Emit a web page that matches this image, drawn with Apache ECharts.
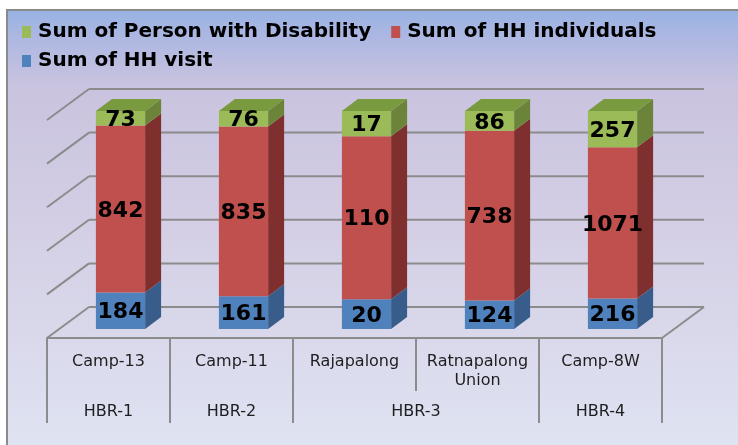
<!DOCTYPE html>
<html>
<head>
<meta charset="utf-8">
<script src="https://cdn.jsdelivr.net/npm/echarts@6/dist/echarts.min.js"></script>
<style>
  html, body { margin: 0; padding: 0; background: #fff; }
  #chart { width: 738px; height: 445px; }
</style>
</head>
<body>
<div id="chart"></div>
<script>
const camps = ['Camp-13', 'Camp-11', 'Rajapalong', 'Ratnapalong\nUnion', 'Camp-8W']
const regions = ['HBR-1', 'HBR-2', 'HBR-3', 'HBR-3', 'HBR-4']
const hhVisit = [184, 161, 20, 124, 216]
const hhIndividuals = [842, 835, 110, 738, 1071]
const disability = [73, 76, 17, 86, 257]
const pctTicks = [0, 20, 40, 60, 80, 100]

// fake 3D: pixel offsets of the depth direction
const DEPTH = [42, -31]      // floor / back wall
const FRONT = [12, -9]       // bar front plane, from floor front edge
const BAR_DEPTH = [16, -12]
const GRID_LINE = '#8c8c8c'
const TEXT = '#1e1e1e'

const totals = hhVisit.map((v, i) => v + hhIndividuals[i] + disability[i])

// 100% stacked: [category, base %, top %, raw value]
const stackData = (values, below) => values.map((v, i) => {
  const base = below.reduce((s, arr) => s + arr[i], 0) / totals[i] * 100
  return [i, base, base + v / totals[i] * 100, v]
})

const barRenderer = (front, side, top) => (params, api) => {
  const i = api.value(0)
  const bw = api.size([1, 0])[0] * 0.4
  const x = api.coord([i, 0])[0] - bw / 2 + FRONT[0]
  const yb = api.coord([i, api.value(1)])[1] + FRONT[1]
  const yt = api.coord([i, api.value(2)])[1] + FRONT[1]
  const xr = x + bw
  const [dx, dy] = BAR_DEPTH
  const children = [
    { type: 'polygon', shape: { points: [[xr, yt], [xr + dx, yt + dy], [xr + dx, yb + dy], [xr, yb]] }, style: { fill: side } },
    { type: 'rect', shape: { x: x, y: yt, width: bw, height: yb - yt }, style: { fill: front } }
  ]
  if (api.value(2) > 99.99) {
    children.push({ type: 'polygon', shape: { points: [[x, yt], [xr, yt], [xr + dx, yt + dy], [x + dx, yt + dy]] }, style: { fill: top } })
  }
  children.push({
    type: 'text', x: x + bw / 2, y: (yt + yb) / 2 + 2,
    style: { text: String(api.value(3)), fill: '#000', font: 'bold 22px "DejaVu Sans"', align: 'center', verticalAlign: 'middle' }
  })
  return { type: 'group', children }
}

// back wall, side wall, floor and the two-level category table
const scaffoldRenderer = (params, api) => {
  const i = api.value(0)
  const cs = params.coordSys
  const x0 = cs.x, x1 = cs.x + cs.width, yFloor = cs.y + cs.height
  const band = api.size([1, 0])[0]
  const [dx, dy] = DEPTH
  const line = (a, b) => ({
    type: 'line', shape: { x1: a[0], y1: a[1], x2: b[0], y2: b[1] },
    style: { stroke: GRID_LINE, lineWidth: 2 }
  })
  const children = []
  if (i === 0) {
    pctTicks.forEach(t => {
      const y = api.coord([0, t])[1]
      children.push(line([x0 + dx, y + dy], [x1 + dx, y + dy]))
      children.push(line([x0, y], [x0 + dx, y + dy]))
    })
    children.push(line([x1, yFloor], [x1 + dx, yFloor + dy]))
  }
  const left = x0 + i * band
  const sameGroup = i > 0 && regions[i] === regions[i - 1]
  children.push(line([left, yFloor], [left, yFloor + (sameGroup ? 53 : 85)]))
  if (i === camps.length - 1) children.push(line([x1, yFloor], [x1, yFloor + 85]))
  if (!sameGroup) {
    let n = 1
    while (regions[i + n] === regions[i]) n++
    children.push({
      type: 'text', x: left + band * n / 2, y: yFloor + 74,
      style: { text: regions[i], fill: TEXT, font: '16px "DejaVu Sans"', align: 'center', verticalAlign: 'middle' }
    })
  }
  return { type: 'group', children }
}

const chart = echarts.init(document.getElementById('chart'))

const legendBase = {
  left: 17,
  icon: 'rect',
  itemWidth: 9,
  itemHeight: 12,
  itemGap: 20,
  selectedMode: false,
  textStyle: { fontFamily: 'DejaVu Sans', fontWeight: 'bold', fontSize: 20, color: '#000', padding: [0, 0, 0, 2] }
}

const option = {
  animation: false,
  backgroundColor: '#fff',
  graphic: [{
    type: 'rect', z: -10,
    shape: { x: 7, y: 10, width: 740, height: 445 },
    style: {
      fill: new echarts.graphic.LinearGradient(0, 0, 0, 1, [
        { offset: 0, color: '#96b3e4' },
        { offset: 0.05, color: '#a9b6e2' },
        { offset: 0.17, color: '#c9c3df' },
        { offset: 0.5, color: '#d4cfe5' },
        { offset: 1, color: '#dfe4f2' }
      ]),
      stroke: '#8a8a8a', lineWidth: 2
    }
  }],
  legend: [
    Object.assign({ top: 17, data: ['Sum of Person with Disability', 'Sum of HH individuals'] }, legendBase),
    Object.assign({ top: 46, data: ['Sum of HH visit'] }, legendBase)
  ],
  grid: { left: 47, right: 76, top: 120, bottom: 107 },
  xAxis: {
    type: 'category',
    data: camps,
    axisLine: { lineStyle: { color: GRID_LINE, width: 2 } },
    axisTick: { show: false },
    axisLabel: { interval: 0, margin: 14, fontFamily: 'DejaVu Sans', fontSize: 16, lineHeight: 19, color: TEXT }
  },
  yAxis: { type: 'value', min: 0, max: 100, interval: 20, show: false },
  series: [
    { type: 'custom', name: 'scaffold', z: 1, renderItem: scaffoldRenderer, data: camps.map((c, i) => [i, 0]), silent: true },
    { type: 'custom', name: 'Sum of HH visit', itemStyle: { color: '#4f81bd' }, z: 3,
      renderItem: barRenderer('#4f81bd', '#385d8a', '#385d8a'), data: stackData(hhVisit, []) },
    { type: 'custom', name: 'Sum of HH individuals', itemStyle: { color: '#c0504d' }, z: 3,
      renderItem: barRenderer('#c0504d', '#7f302e', '#7f302e'), data: stackData(hhIndividuals, [hhVisit]) },
    { type: 'custom', name: 'Sum of Person with Disability', itemStyle: { color: '#9bbb59' }, z: 3,
      renderItem: barRenderer('#9bbb59', '#6b8439', '#7a9a40'), data: stackData(disability, [hhVisit, hhIndividuals]) }
  ]
}

chart.setOption(option)
</script>
</body>
</html>
